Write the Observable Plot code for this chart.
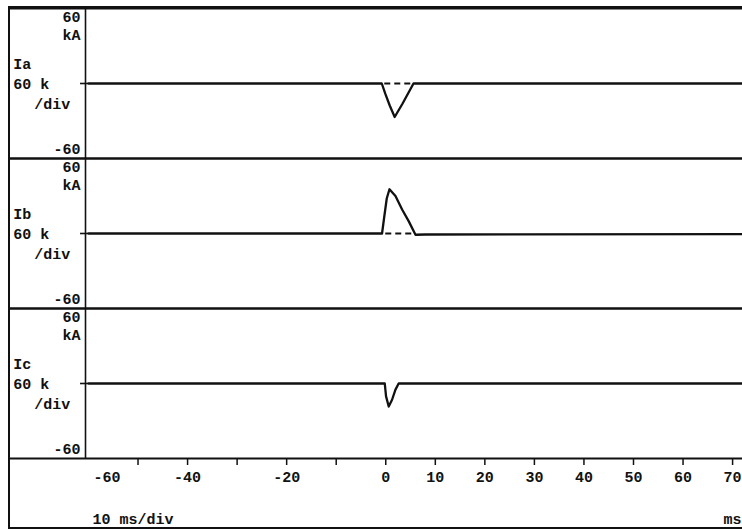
<!DOCTYPE html>
<html><head><meta charset="utf-8">
<script src="https://cdn.jsdelivr.net/npm/d3@7"></script>
<script src="https://cdn.jsdelivr.net/npm/@observablehq/plot@0.6"></script>
<style>
body{margin:0;background:#fff;}
#wrap{position:relative;width:742px;height:529px;overflow:hidden;background:#fff;}
#wrap svg{position:absolute;left:0;top:0;}
#border{position:absolute;left:8px;top:6px;width:800px;height:519px;border-left:2px solid #111;border-top:2px solid #111;border-bottom:2px solid #111;pointer-events:none;}
</style></head><body><div id="wrap"><div id="border"></div></div>
<script>
// ---- data ----
const channels = ["Ia", "Ib", "Ic"];
const channelScale = ["60 k", "60 k", "60 k"];
const unitLabel = "kA";
const perDiv = "/div";
const yTop = 60, yBottom = -60;

// time (ms) and current (kA) samples of each trace
const timeIa = [-60, -0.8, -0.1, 0.8, 1.8, 3.4, 5.6, 72];
const valueIa = [0, 0, -8.1, -17.6, -26.8, -16, 0, 0];
const timeIb = [-60, -0.75, -0.35, 0.2, 0.75, 1.96, 3.3, 4.65, 6.0, 8, 72];
const valueIb = [0, 0, 12, 28, 35.4, 30, 19.2, 9.7, -1, -0.8, -0.5];
const timeIc = [-60, -0.2, 0.06, 0.6, 1.27, 1.96, 2.6, 72];
const valueIc = [0, 0, -10.3, -18.4, -13, -4.9, 0, 0];

// dashed zero reference under the pulses
const dashCh = ["Ia", "Ib"];
const dashStart = [-0.2, 0];
const dashEnd = [5.2, 5.8];

// x axis
const xTicks = [-50, -40, -30, -20, -10, 0, 10, 20, 30, 40, 50, 60, 70];
const xTickLabels = [-40, -20, 0, 10, 20, 30, 40, 50, 60, 70];
const xFirstLabel = -60;
const timeBase = "10 ms/div";
const timeUnit = "ms";

// ---- layout constants ----
const xMin = -60.6, xMax = 72;      // plotting window
const xOuter = -75.8;               // outer border in ms units
const xStub = -61.6;                // zero-line stub start

const times = [timeIa, timeIb, timeIc];
const values = [valueIa, valueIb, valueIc];
const traces = [];
channels.forEach((c, i) => times[i].forEach((t, j) => traces.push({ch: c, t, v: values[i][j]})));
const dashes = dashCh.map((c, i) => ({ch: c, x1: dashStart[i], x2: dashEnd[i]}));
const hLines = channels.flatMap(c => [{ch: c, y: yTop}, {ch: c, y: yBottom}]);
const panels = channels.map((c, i) => ({ch: c, name: c, scale: channelScale[i]}));
const last = channels[channels.length - 1];

const ink = "#111";
const plot = Plot.plot({
  width: 742, height: 529,
  marginTop: 7, marginBottom: 71, marginLeft: 85, marginRight: 0,
  style: {fontFamily: "'Liberation Mono', 'DejaVu Sans Mono', monospace", fontWeight: "bold", fontSize: "15px", color: ink, background: "transparent"},
  x: {domain: [xMin, xMax], axis: null},
  y: {domain: [yBottom, yTop], axis: null},
  fy: {domain: channels, axis: null, padding: 0},
  marks: [
    // panel dividers (full width)
    Plot.ruleY(hLines, {fy: "ch", y: "y", x1: xOuter, x2: xMax, stroke: ink, strokeWidth: 2}),
    // label column divider
    Plot.ruleX(panels, {fy: "ch", x: () => xMin, y1: yBottom, y2: yTop, stroke: ink, strokeWidth: 1.6}),
    // zero stub
    Plot.ruleY(panels, {fy: "ch", y: () => 0, x1: xStub, x2: -60, stroke: ink, strokeWidth: 1.6}),
    // dashed zero reference
    Plot.ruleY(dashes, {fy: "ch", y: () => 0, x1: "x1", x2: "x2", stroke: ink, strokeWidth: 1.8, strokeDasharray: "6,4"}),
    // traces
    Plot.line(traces, {fy: "ch", x: "t", y: "v", z: "ch", stroke: ink, strokeWidth: 2.3, curve: "linear", strokeLinejoin: "round"}),
    // left column labels
    Plot.text(panels, {fy: "ch", x: () => xMin, y: () => yTop, text: () => String(yTop), textAnchor: "end", dx: -5, dy: 9}),
    Plot.text(panels, {fy: "ch", x: () => xMin, y: () => yTop, text: () => unitLabel, textAnchor: "end", dx: -5, dy: 27}),
    Plot.text(panels, {fy: "ch", x: () => xOuter, y: () => 0, text: "name", textAnchor: "start", dx: 3, dy: -19}),
    Plot.text(panels, {fy: "ch", x: () => xOuter, y: () => 0, text: "scale", textAnchor: "start", dx: 3, dy: 1}),
    Plot.text(panels, {fy: "ch", x: () => xOuter, y: () => 0, text: () => perDiv, textAnchor: "start", dx: 24, dy: 21}),
    Plot.text(panels, {fy: "ch", x: () => xMin, y: () => yBottom, text: () => String(yBottom), textAnchor: "end", dx: -5, dy: -9}),
    // x axis
    Plot.axisX({ticks: xTicks, tickSize: 7, tickPadding: 6, tickFormat: d => xTickLabels.includes(d) ? String(d) : "", stroke: ink, strokeWidth: 1.5, fill: ink}),
    Plot.text([{ch: last}], {fy: "ch", x: () => xFirstLabel, y: () => yBottom, text: () => String(xFirstLabel), textAnchor: "start", dx: 5, dy: 19}),
    Plot.text([{ch: last}], {fy: "ch", x: () => xFirstLabel, y: () => yBottom, text: () => timeBase, textAnchor: "start", dx: 4, dy: 61}),
    Plot.text([{ch: last}], {fy: "ch", x: () => xMax, y: () => yBottom, text: () => timeUnit, textAnchor: "end", dx: -1, dy: 61})
  ]
});
document.getElementById("wrap").prepend(plot);
</script>
</body></html>
